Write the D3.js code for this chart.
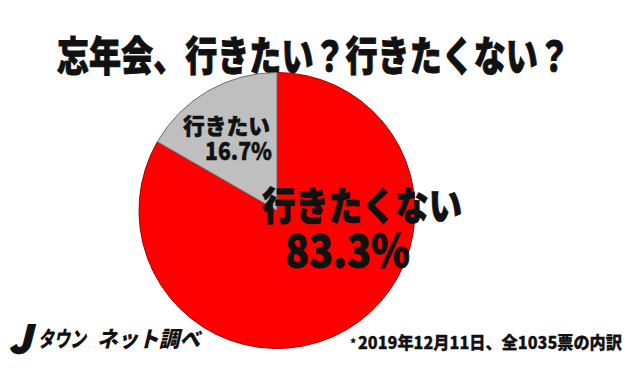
<!DOCTYPE html>
<html>
<head>
<meta charset="utf-8">
<script src="https://cdn.jsdelivr.net/npm/d3@7"></script>
<style>
  body { margin: 0; background: #fff; }
  text { font-family: "Noto Sans CJK JP", "Noto Sans", sans-serif; font-weight: 900; fill: #111; }
  .heavy { stroke: #111; stroke-width: 0.9; }
</style>
</head>
<body>
<div id="chart"></div>
<script>
// data
var categories = ['行きたくない', '行きたい'];
var shares = [83.3, 16.7];
var colors = ['#ff0000', '#bfbfbf'];

var width = 639, height = 368;

var svg = d3.select('#chart').append('svg')
    .attr('width', width)
    .attr('height', height);

// title
svg.append('text')
    .attr('class', 'heavy')
    .attr('x', 57)
    .attr('y', 71)
    .attr('font-size', 41)
    .attr('textLength', 513)
    .attr('lengthAdjust', 'spacingAndGlyphs')
    .text('忘年会、行きたい？行きたくない？');

// pie
var cx = 277, cy = 210.5, r = 138;

var pie = d3.pie().sort(null).value(function(d) { return d; });
var arc = d3.arc().innerRadius(0).outerRadius(r);

var g = svg.append('g')
    .attr('transform', 'translate(' + cx + ',' + cy + ')');

g.selectAll('path')
    .data(pie(shares))
    .enter()
    .append('path')
    .attr('d', arc)
    .attr('fill', function(d, i) { return colors[i]; })
    .attr('stroke', function(d, i) { return i == 0 ? '#a00000' : '#707070'; })
    .attr('stroke-width', 1);

// slice labels
var fmt = function(v) { return v.toFixed(1) + '%'; };

// big slice
g.append('text')
    .attr('class', 'heavy')
    .attr('x', -15)
    .attr('y', 9)
    .attr('font-size', 39)
    .attr('textLength', 200)
    .attr('lengthAdjust', 'spacingAndGlyphs')
    .text(categories[0]);
g.append('text')
    .attr('class', 'heavy')
    .attr('x', 8)
    .attr('y', 56)
    .attr('font-size', 44)
    .attr('textLength', 125)
    .attr('lengthAdjust', 'spacingAndGlyphs')
    .text(fmt(shares[0]));

// small slice
g.append('text')
    .attr('class', 'heavy')
    .style('stroke-width', 0.5)
    .attr('x', -94)
    .attr('y', -77)
    .attr('font-size', 22)
    .attr('textLength', 87)
    .attr('lengthAdjust', 'spacingAndGlyphs')
    .text(categories[1]);
g.append('text')
    .attr('class', 'heavy')
    .style('stroke-width', 0.5)
    .attr('x', -72)
    .attr('y', -51)
    .attr('font-size', 24)
    .attr('textLength', 67)
    .attr('lengthAdjust', 'spacingAndGlyphs')
    .text(fmt(shares[1]));

// logo
svg.append('text')
    .attr('class', 'heavy')
    .style('stroke-width', 1.5)
    .attr('x', 9)
    .attr('y', 353)
    .attr('font-size', 38)
    .attr('font-family', '"DejaVu Sans", sans-serif')
    .attr('font-style', 'italic')
    .text('J');
svg.append('text')
    .attr('x', 38)
    .attr('y', 347)
    .attr('font-size', 22)
    .attr('font-style', 'italic')
    .attr('textLength', 48)
    .attr('lengthAdjust', 'spacingAndGlyphs')
    .text('タウン');
svg.append('text')
    .attr('x', 97)
    .attr('y', 347)
    .attr('font-size', 22)
    .attr('font-style', 'italic')
    .attr('textLength', 103)
    .attr('lengthAdjust', 'spacingAndGlyphs')
    .text('ネット調べ');

// footnote
svg.append('text')
    .attr('x', 350)
    .attr('y', 348)
    .attr('font-size', 12)
    .text('*');
svg.append('text')
    .attr('class', 'heavy')
    .style('stroke-width', 0.3)
    .attr('x', 358)
    .attr('y', 349)
    .attr('font-size', 17)
    .attr('textLength', 264)
    .attr('lengthAdjust', 'spacingAndGlyphs')
    .text('2019年12月11日、全1035票の内訳');
</script>
</body>
</html>
